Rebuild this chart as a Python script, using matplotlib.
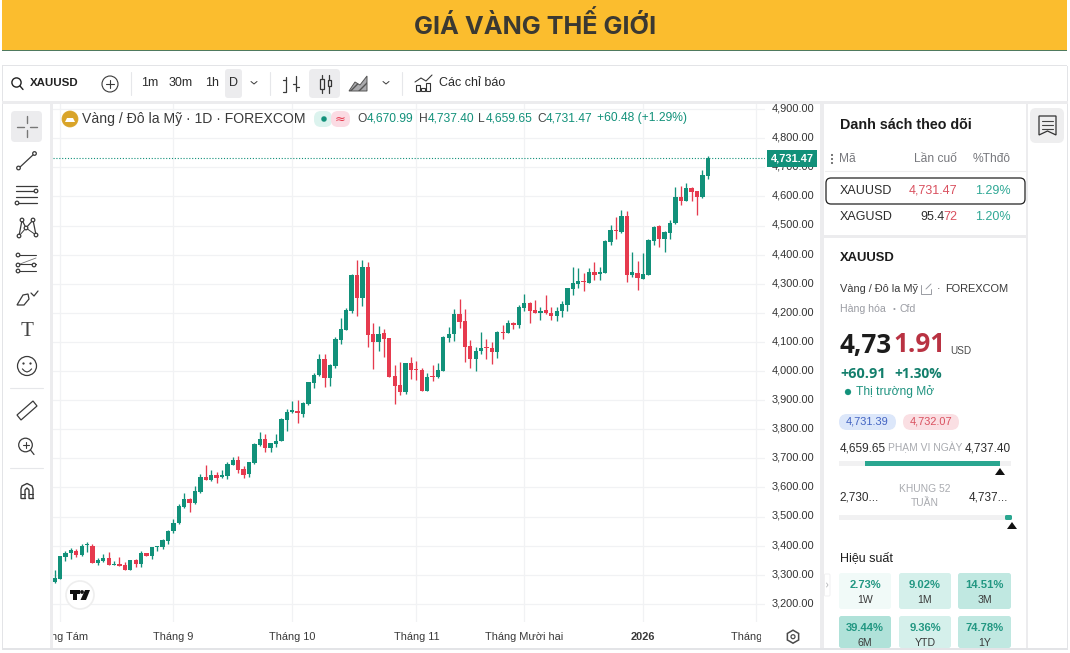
# -*- coding: utf-8 -*-

import matplotlib
matplotlib.use("Agg")
import matplotlib.pyplot as plt
from matplotlib.patches import Rectangle, FancyBboxPatch, Circle, Polygon, RegularPolygon
from matplotlib.transforms import Bbox, ScaledTranslation

plt.rcParams['font.family'] = ['Liberation Sans', 'DejaVu Sans']

#################
# Daily candles #
#################

opens = [3275, 3287, 3361, 3373, 3383, 3368, 3402, 3399, 3341, 3347,
         3359, 3334, 3338, 3334, 3317, 3350, 3338, 3374, 3366, 3394,
         3396, 3416, 3450, 3477, 3533, 3561, 3545, 3585, 3636, 3625,
         3643, 3635, 3639, 3678, 3694, 3662, 3646, 3685, 3746, 3766,
         3735, 3749, 3760, 3832, 3859, 3864, 3854, 3886, 3960, 3985,
         4042, 3976, 4018, 4108, 4142, 4206, 4330, 4252, 4356, 4126,
         4099, 4129, 4113, 3982, 3953, 3927, 4027, 4006, 4002, 3931,
         3982, 3978, 4001, 4113, 4127, 4197, 4172, 4086, 4043, 4068,
         4080, 4079, 4065, 4135, 4132, 4166, 4157, 4218, 4234, 4210,
         4200, 4210, 4199, 4189, 4206, 4228, 4282, 4300, 4308, 4304,
         4339, 4332, 4337, 4442, 4485, 4479, 4533, 4331, 4338, 4317,
         4331, 4448, 4497, 4455, 4475, 4507, 4598, 4584, 4630, 4618,
         4597, 4670.99]
highs = [3316, 3364, 3382, 3391, 3387, 3405, 3413, 3407, 3359, 3371,
         3377, 3348, 3361, 3344, 3352, 3355, 3380, 3375, 3396, 3400,
         3424, 3455, 3490, 3543, 3581, 3562, 3604, 3646, 3677, 3659,
         3654, 3659, 3686, 3705, 3707, 3673, 3688, 3751, 3791, 3782,
         3754, 3785, 3837, 3871, 3898, 3900, 3894, 3963, 3994, 4060,
         4060, 4024, 4118, 4181, 4216, 4333, 4381, 4381, 4376, 4164,
         4154, 4145, 4113, 4020, 4032, 4029, 4047, 4033, 4009, 3992,
         4020, 4029, 4119, 4150, 4212, 4248, 4212, 4106, 4081, 4134,
         4110, 4100, 4138, 4159, 4175, 4169, 4227, 4265, 4238, 4244,
         4221, 4261, 4221, 4221, 4239, 4287, 4356, 4353, 4336, 4353,
         4376, 4359, 4450, 4501, 4528, 4553, 4551, 4408, 4377, 4404,
         4455, 4498, 4503, 4482, 4519, 4634, 4636, 4645, 4634, 4620,
         4691, 4737.40]
lows = [3272, 3287, 3348, 3355, 3361, 3366, 3379, 3340, 3335, 3345,
        3333, 3333, 3329, 3316, 3316, 3327, 3325, 3363, 3355, 3382,
        3389, 3407, 3442, 3474, 3528, 3516, 3542, 3581, 3624, 3623,
        3616, 3633, 3630, 3677, 3650, 3632, 3636, 3682, 3744, 3722,
        3722, 3740, 3759, 3795, 3856, 3822, 3843, 3883, 3943, 3982,
        3946, 3950, 4010, 4092, 4141, 4200, 4189, 4223, 4083, 4006,
        4068, 4047, 3978, 3886, 3919, 3921, 3974, 3969, 3930, 3930,
        3965, 3977, 4000, 4100, 4102, 4149, 4032, 4009, 4001, 4060,
        4040, 4024, 4044, 4111, 4129, 4144, 4149, 4207, 4166, 4198,
        4175, 4196, 4177, 4173, 4187, 4207, 4260, 4287, 4274, 4301,
        4313, 4313, 4336, 4433, 4452, 4473, 4307, 4324, 4278, 4315,
        4330, 4432, 4427, 4410, 4455, 4506, 4572, 4583, 4583, 4537,
        4595, 4659.65]
closes = [3290, 3364, 3373, 3384, 3368, 3399, 3404, 3341, 3350, 3359,
          3334, 3336, 3330, 3317, 3350, 3337, 3374, 3365, 3395, 3399,
          3418, 3451, 3478, 3536, 3560, 3545, 3587, 3636, 3625, 3642,
          3634, 3643, 3682, 3694, 3659, 3643, 3686, 3749, 3766, 3736,
          3751, 3760, 3834, 3859, 3866, 3855, 3889, 3961, 3986, 4042,
          3976, 4021, 4110, 4143, 4209, 4331, 4252, 4357, 4125, 4099,
          4128, 4111, 3980, 3950, 3927, 4027, 4003, 4003, 3931, 3980,
          3979, 4002, 4117, 4128, 4197, 4169, 4083, 4043, 4068, 4079,
          4078, 4065, 4135, 4131, 4166, 4158, 4219, 4234, 4207, 4200,
          4208, 4198, 4189, 4208, 4231, 4284, 4301, 4309, 4306, 4340,
          4331, 4339, 4446, 4483, 4480, 4534, 4331, 4339, 4320, 4332,
          4450, 4496, 4455, 4478, 4510, 4598, 4584, 4630, 4615, 4597,
          4674, 4731.47]

price_ticks = [3200, 3300, 3400, 3500, 3600, 3700, 3800, 3900,
               4000, 4100, 4200, 4300, 4400, 4500, 4600, 4700, 4800, 4900]
month_pos = [1, 22, 44, 67, 87, 109, 130]
month_labels = ["Tháng Tám", "Tháng 9", "Tháng 10", "Tháng 11",
                "Tháng Mười hai", "2026", "Tháng Hai"]

perf_values = ["2.73%", "9.02%", "14.51%", "39.44%", "9.36%", "74.78%"]
perf_periods = ["1W", "1M", "3M", "6M", "YTD", "1Y"]
perf_colors = ["#f1faf8", "#d5f0eb", "#c0e8e1", "#b0e2d9", "#d5f0eb", "#c0e8e1"]

GREEN = "#12917a"
RED = "#e63a4e"
TEXT = "#2b2b2b"
GREY = "#9a9ca3"
W, H = 1070, 653

fig = plt.figure(figsize=(W/100., H/100.), dpi=100, facecolor="white")


def frac(x0, y0, x1, y1):
    return [x0/W, 1-y1/H, (x1-x0)/W, (y1-y0)/H]


#########
# Chart #
#########

ax = fig.add_axes(frac(53, 104, 765, 622), zorder=1)
ax.patch.set_visible(False)
ax.set_xlim(-0.315, 131.6)
ax.set_ylim(3137.6, 4917.6)

ax.set_axisbelow(True)
ax.grid(True, color="#f1f2f4", lw=0.9)
for s in ax.spines.values():
    s.set_visible(False)

xs = list(range(len(closes)))
colors = [GREEN if c >= o else RED for o, c in zip(opens, closes)]
ax.vlines(xs, lows, highs, colors=colors, lw=0.95, zorder=3)
bottoms = [min(o, c) for o, c in zip(opens, closes)]
heights = [max(abs(c-o), 3) for o, c in zip(opens, closes)]
ax.bar(xs, heights, bottom=bottoms, width=0.8, color=colors, lw=0, zorder=4)

ax.axhline(closes[-1], color=GREEN, lw=0.8, ls=(0, (1, 1.6)), zorder=2)

ax.yaxis.tick_right()
ax.set_yticks(price_ticks)
ax.set_yticklabels(["{:,.2f}".format(p) for p in price_ticks],
                   fontsize=7.9, color="#333333")
ax.tick_params(axis="y", length=0, pad=4.5)
ax.set_xticks(month_pos)
ax.set_xticklabels(month_labels, fontsize=7.9, color="#3a3a3a")
ax.tick_params(axis="x", length=0, pad=7)

# price labels sit a little above their grid lines
nudge = ScaledTranslation(0, 1.6/100., fig.dpi_scale_trans)
for lab in ax.get_yticklabels():
    lab.set_transform(lab.get_transform()+nudge)

# month labels run under the side panels at both ends, so they get cut off there
clip = Bbox([[53, 0], [761, H]])
for lab in ax.get_xticklabels():
    lab.set_clip_box(clip)
    lab.set_clip_on(True)
    if lab.get_text() == "2026":
        lab.set_fontweight("bold")

ax.text(1.0386, closes[-1], "{:,.2f}".format(closes[-1]), transform=ax.get_yaxis_transform(),
        ha="center", va="center", fontsize=7.9, fontweight="bold", color="white", zorder=6,
        clip_on=False,
        bbox=dict(boxstyle="square,pad=0.32", fc=GREEN, ec="none"))

##############
# Side parts #
##############

ui = fig.add_axes([0, 0, 1, 1], zorder=3)
ui.patch.set_visible(False)
ui.set_xlim(0, W)
ui.set_ylim(H, 0)
ui.axis("off")


def txt(x, y, s, px=12, color=TEXT, ha="left", weight="normal", z=4, **kw):
    return ui.text(x, y, s, fontsize=px*0.72, color=color, ha=ha, va="center",
                   fontweight=weight, zorder=z, **kw)


def rect(x0, y0, x1, y1, color, z=1):
    ui.add_patch(Rectangle((x0, y0), x1-x0, y1-y0, fc=color, ec="none", zorder=z))


def rrect(x0, y0, x1, y1, color, r=3, ec="none", lw=0.0, z=1):
    ui.add_patch(FancyBboxPatch((x0+r, y0+r), x1-x0-2*r, y1-y0-2*r,
                                boxstyle="round,pad=%g,rounding_size=%g" % (r, r),
                                fc=color, ec=ec, lw=lw, zorder=z))


def line(xs, ys, color="#3a3a3a", lw=0.9, z=3):
    ui.plot(xs, ys, color=color, lw=lw, zorder=z, solid_capstyle="round")


def ring(x, y, r, color="#3a3a3a", lw=0.9, fc="none", z=3):
    ui.add_patch(Circle((x, y), r, fc=fc, ec=color, lw=lw, zorder=z))


# header band and panel gutters
rect(2, 0, 1067, 50, "#fbbd2e")
rect(2, 50, 1067, 51, "#4f7a5e")
txt(535, 25.5, "GIÁ VÀNG THẾ GIỚI", px=25.3, color="#3b3932", ha="center", weight="bold", family="Inter")
rect(2, 65, 1067, 66, "#e3e4e7")
rect(2, 66, 3, 649, "#e3e4e7")
rect(1067, 66, 1068, 649, "#e3e4e7")
rect(2, 101, 1068, 104, "#ececee")
rect(50, 104, 53, 649, "#ececee")
rect(820, 104, 824, 649, "#ececee")
rect(1026, 104, 1028, 649, "#ececee")
rect(2, 648, 1068, 650, "#e3e4e7")

# top toolbar
ring(16.5, 82.5, 4.6, color="#222222", lw=1.0)
line([20, 23], [86, 89.5], color="#222222", lw=1.0)
txt(30, 83, "XAUUSD", px=11.5, weight="bold", color="#222222")
ring(110, 84, 8, lw=0.8)
line([106, 114], [84, 84], lw=0.8)
line([110, 110], [80, 88], lw=0.8)
for sx in [131, 270, 402]:
    line([sx, sx], [72, 95], color="#e6e7ea", lw=0.8)
txt(141, 83, "1m", px=12.5)
txt(169, 83, "30m", px=12.5)
txt(205, 83, "1h", px=12.5)
rrect(225, 69, 242, 98, "#ececee", r=3)
txt(233.5, 83, "D", px=12.5, ha="center")
line([251, 254, 257], [81.5, 84, 81.5], lw=0.7)
line([286, 286, 283], [77, 92, 92], lw=0.9)
line([283, 286], [80, 80], lw=0.9)
line([296, 296], [76, 91], lw=0.9)
line([293, 296], [84, 84], lw=0.9)
line([296, 299], [87, 87], lw=0.9)
rrect(309, 69, 340, 98, "#ececee", r=4)
ui.add_patch(Rectangle((319.5, 79), 4.5, 10, fc="none", ec="#333333", lw=0.9, zorder=3))
line([321.7, 321.7], [75, 79], lw=0.9)
line([321.7, 321.7], [89, 93], lw=0.9)
ui.add_patch(Rectangle((327.5, 80), 3.5, 6, fc="none", ec="#333333", lw=0.9, zorder=3))
line([329.2, 329.2], [75, 80], lw=0.9)
line([329.2, 329.2], [86, 93], lw=0.9)
ui.add_patch(Polygon([(349, 91), (355, 82), (360, 85), (367, 76), (367, 91)], fc="#a9a9ac", ec="#555555", lw=0.7, zorder=3, hatch="////"))
line([383, 386, 389], [81.5, 84, 81.5], lw=0.7)
for bx, by in [(416, 85), (421, 88), (426, 83)]:
    ui.add_patch(Rectangle((bx, by), 4, 91-by, fc="none", ec="#333333", lw=0.8, zorder=3))
line([415, 421, 426, 432], [82, 78, 81, 75], lw=0.8)
txt(439, 83, "Các chỉ báo", px=12.5)

# symbol legend row
ring(70, 119, 8, color="#d9a429", fc="#d9a429", lw=0.5)
ui.add_patch(Polygon([(65, 122), (67, 118), (73, 118), (75, 122)], fc="white", ec="none", zorder=4))
txt(82, 119, "Vàng / Đô la Mỹ · 1D · FOREXCOM", px=14, color="#3a3a3a")
rrect(314, 111, 332, 127, "#dcf3ee", r=7)
rrect(331, 111, 350, 127, "#fbdbe3", r=7)
ring(324, 119, 2.6, color=GREEN, fc=GREEN, lw=0.2)
txt(340.5, 119, "≈", px=13, color=RED, ha="center", family="DejaVu Sans")
for lx, lab, vx, val in [(357, "O", 366.5, "4,670.99"), (419, "H", 427.5, "4,737.40"),
                         (478, "L", 485.5, "4,659.65"), (537, "C", 545.5, "4,731.47")]:
    txt(lx, 118.5, lab, px=12, color="#444444")
    txt(vx, 118.5, val, px=12, color=GREEN)
txt(597, 118.5, "+60.48 (+1.29%)", px=12, color=GREEN)

# watermark
ring(80, 595, 14, color="#eeeeee", fc="white", lw=1.2)
rect(70, 590, 80, 594, "#111111", z=4)
rect(73, 590, 77, 600, "#111111", z=4)
ring(82, 592, 1.8, color="#111111", fc="#111111", lw=0.2, z=4)
ui.add_patch(Polygon([(85, 590), (90, 590), (86, 600), (80.5, 600)], fc="#111111", ec="none", zorder=4))

# settings nut at the end of the time scale
ui.add_patch(RegularPolygon((793, 636.7), 6, radius=6.5, fc="none", ec="#4a4a4a", lw=1.1, zorder=3))
ring(793, 636.7, 2, color="#4a4a4a", lw=0.9)

# drawing tools column
rrect(11, 111, 42, 142, "#ececee", r=4)
line([17, 24], [126.5, 126.5], color="#777777", lw=1.0)
line([30, 37], [126.5, 126.5], color="#777777", lw=1.0)
line([27, 27], [116, 123], color="#777777", lw=1.0)
line([27, 27], [130, 137], color="#777777", lw=1.0)
line([19, 34], [168, 154], lw=0.9)
ring(18.5, 168, 1.8, fc="white")
ring(34.5, 153.5, 1.8, fc="white")
for ty in [186, 191, 197, 203]:
    line([16, 37], [ty, ty], lw=0.9)
ring(36, 191, 1.8, fc="white")
ring(17, 203, 1.8, fc="white")
line([19, 22, 26, 33, 36], [236, 220, 228, 220, 235], lw=0.9)
line([19, 26, 36], [236, 228, 235], lw=0.7)
for nx, ny in [(19, 236), (22, 220), (26, 228), (33, 220), (36, 235)]:
    ring(nx, ny, 1.8, fc="white")
for ty in [255, 264, 271]:
    line([17, 36], [ty, ty], lw=0.8)
line([20, 36], [264, 258], lw=0.6, color="#777777")
for nx, ny in [(18, 255), (18, 265), (18, 271), (34, 265)]:
    ring(nx, ny, 1.8, fc="white")
ui.add_patch(Polygon([(17, 305), (23, 295), (28, 294), (29, 299), (24, 305)], fc="none", ec="#3a3a3a", lw=0.9, zorder=3))
line([31, 34, 38], [293, 296, 291], lw=0.9)
txt(27, 332, "T", px=21, color="#444444", ha="center", family="Liberation Serif")
ring(27, 366, 9.5)
ring(23.5, 363.5, 0.5, fc="#3a3a3a")
ring(30.5, 363.5, 0.5, fc="#3a3a3a")
ui.plot([22.5, 24.5, 27, 29.5, 31.5], [369, 371, 372, 371, 369], color="#3a3a3a", lw=0.8, zorder=3)
line([10, 43], [388, 388], color="#e6e7ea", lw=0.8)
ui.add_patch(Polygon([(17, 415), (33, 401), (37, 406), (21, 420)], fc="none", ec="#3a3a3a", lw=0.9, zorder=3))
ring(25.5, 445, 6.8)
line([30.5, 34], [450, 454.5])
line([22.5, 28.5], [445, 445], lw=0.8)
line([25.5, 25.5], [442, 448], lw=0.8)
line([10, 43], [468, 468], color="#e6e7ea", lw=0.8)
ui.plot([21, 21, 22, 27, 32, 33, 33], [498, 489, 486, 483.5, 486, 489, 498], color="#3a3a3a", lw=1.0, zorder=3)
ui.plot([25, 25, 27, 29, 29], [498, 490, 488, 490, 498], color="#3a3a3a", lw=1.0, zorder=3)
line([21, 25], [498, 498], lw=1.0)
line([29, 33], [498, 498], lw=1.0)
line([21, 25], [494, 494], lw=0.8)
line([29, 33], [494, 494], lw=0.8)

# watchlist
txt(840, 125, "Danh sách theo dõi", px=14.2, weight="bold", color="#1c1c1c")
for dy in [155, 159, 163]:
    ring(832, dy, 0.9, color="#555555", fc="#555555", lw=0.2)
txt(839, 158.5, "Mã", px=12, color="#77787d")
txt(957, 158.5, "Lần cuố", px=12, color="#77787d", ha="right")
txt(1011, 158.5, "%Thđô", px=12, color="#77787d", ha="right")
line([825, 1025], [171, 171], color="#eeeeef", lw=0.8)
rrect(826, 178, 1025, 204, "white", r=5, ec="#222222", lw=0.9)
txt(839.5, 190.5, "XAUUSD", px=12.5, color="#2c2c2c")
txt(957, 190.5, "4,731.47", px=12.5, color="#d9505f", ha="right")
txt(1011, 190.5, "1.29%", px=12.5, color="#2fa895", ha="right")
txt(839.5, 217.5, "XAGUSD", px=12.5, color="#2c2c2c")
txt(944.5, 217.5, "95.4", px=12.5, color="#2c2c2c", ha="right")
txt(957, 217.5, "72", px=12.5, color="#d9505f", ha="right")
txt(1011, 217.5, "1.20%", px=12.5, color="#2fa895", ha="right")
rect(824, 235, 1026, 237.5, "#ececee")

# symbol details
txt(840, 258, "XAUUSD", px=13, weight="bold", color="#1c1c1c")
txt(839.5, 289, "Vàng / Đô la Mỹ", px=11, color="#3a3a3a")
line([921, 921, 931, 931], [285, 294, 294, 289], color="#9a9ca3", lw=0.7)
line([926, 931], [289, 284], color="#9a9ca3", lw=0.7)
txt(937, 289, "·", px=11, color="#3a3a3a")
txt(945, 289, "FOREXCOM", px=11, color="#3a3a3a")
txt(839.5, 309, "Hàng hóa", px=10.5, color=GREY)
txt(893, 309, "•", px=8, color=GREY)
txt(900, 309, "Cfd", px=10.5, color=GREY)
txt(839.5, 345, "4,73", px=26, weight="bold", color="#1c1c1c", family="Open Sans")
txt(893.5, 345, "1.91", px=26, weight="bold", color="#b93242", family="Open Sans")
txt(950, 351, "USD", px=10, color="#4a4a4a")
txt(840, 373.5, "+60.91", px=14.5, weight="bold", color="#137f6c", family="Open Sans")
txt(894.5, 373.5, "+1.30%", px=13.8, weight="bold", color="#137f6c", family="Open Sans")
ring(848, 392, 3, color=GREEN, fc=GREEN, lw=0.2)
txt(856, 392, "Thị trường Mở", px=12, color="#1f9380")

rrect(839, 414, 896, 430, "#dce7fa", r=8)
txt(867.5, 421.5, "4,731.39", px=11, color="#4263c2", ha="center")
rrect(903, 414, 959, 430, "#fadfe3", r=8)
txt(931, 421.5, "4,732.07", px=11, color="#d9505f", ha="center")

txt(839.5, 448.5, "4,659.65", px=11.8, color="#2c2c2c")
txt(925.5, 447.5, "PHẠM VI NGÀY", px=10.3, color="#a9abb0", ha="center")
txt(1011, 448.5, "4,737.40", px=11.8, color="#2c2c2c", ha="right")
rect(839, 461, 1011, 466, "#f1f1f2")
rect(865, 461, 1000, 466, "#2aa690", z=2)
ui.add_patch(Polygon([(995, 475), (1005, 475), (1000, 468)], fc="#111111", ec="none", zorder=3))

txt(839.5, 497, "2,730...", px=11.8, color="#2c2c2c")
txt(925, 488.5, "KHUNG 52", px=10.3, color="#a9abb0", ha="center")
txt(925, 503, "TUẦN", px=10.3, color="#a9abb0", ha="center")
txt(1008, 497, "4,737...", px=11.8, color="#2c2c2c", ha="right")
rect(839, 515, 1011, 520, "#f1f1f2")
rrect(1005, 515, 1012, 520, "#2aa690", r=1.5, z=2)
ui.add_patch(Polygon([(1007, 529), (1017, 529), (1012, 522)], fc="#111111", ec="none", zorder=3))

txt(839.5, 558.5, "Hiệu suất", px=12.5, color="#1c1c1c")
rrect(824.5, 574, 830, 596, "white", r=1, ec="#eeeeef", lw=0.6)
line([826.5, 828, 826.5], [583, 585, 587], color="#b5b6ba", lw=0.6)

cell_x = [(839, 891), (899, 951), (958, 1011)]
cell_y = [(573, 609), (616, 648)]
for i in range(len(perf_values)):
    x0, x1 = cell_x[i % 3]
    y0, y1 = cell_y[i // 3]
    rrect(x0, y0, x1, y1, perf_colors[i], r=2.5)
    txt((x0+x1)/2., y0+12, perf_values[i], px=11.3, weight="bold", color="#229782", ha="center")
    txt((x0+x1)/2., y0+27, perf_periods[i], px=10.5, color="#3a3a3a", ha="center")

# right side button
rrect(1030, 108, 1064, 143, "#eeeeef", r=6)
ui.add_patch(Polygon([(1039, 116), (1056, 116), (1056, 135), (1047.5, 131), (1039, 135)],
                     fc="none", ec="#333333", lw=0.9, zorder=3))
for ly in [121, 125, 129]:
    line([1042, 1053], [ly, ly], color="#444444", lw=0.8)

fig.savefig("out.png", dpi=100, facecolor="white")
